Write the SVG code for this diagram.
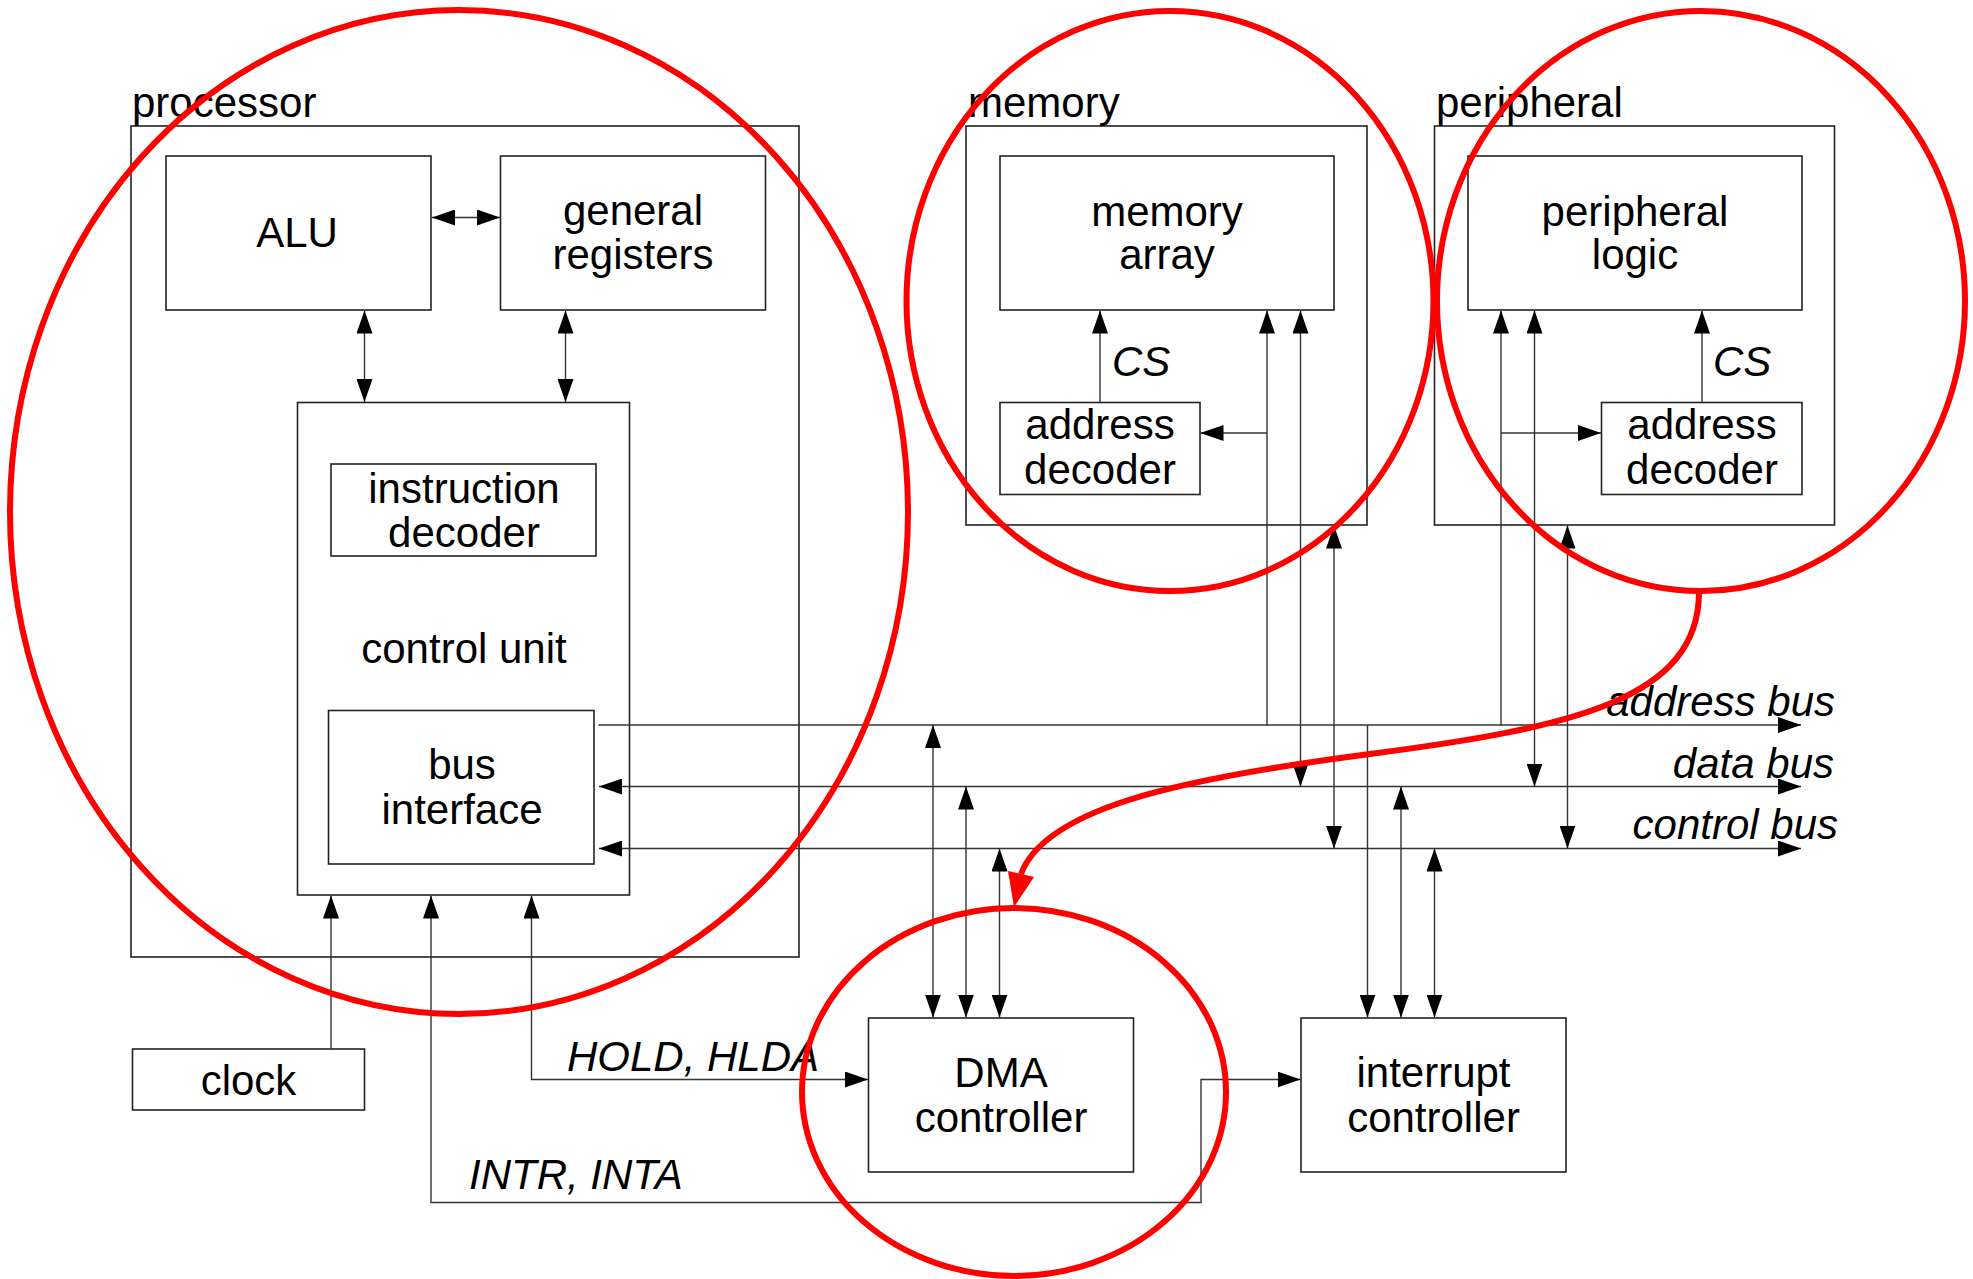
<svg xmlns="http://www.w3.org/2000/svg" width="1973" height="1279" viewBox="0 0 1973 1279">
<style>
.box{fill:none;stroke:#222;stroke-width:1.6}
.ln{fill:none;stroke:#333;stroke-width:1.4}
.t{font-family:"Liberation Sans",Arial,sans-serif;font-size:42px;fill:#000}
.c{text-anchor:middle}
.i{font-style:italic}
.e{text-anchor:end}
.red{fill:none;stroke:#ff0000;stroke-width:6}
.a1{marker-end:url(#ah)}
.a2{marker-start:url(#ah);marker-end:url(#ah)}
.a0{marker-start:url(#ah)}
</style>
<defs>
<marker id="ah" viewBox="0 0 23 16" refX="23" refY="8" markerWidth="23" markerHeight="16" markerUnits="userSpaceOnUse" orient="auto-start-reverse">
<path d="M0,0 L23,8 L0,16 Z" fill="#000"/>
</marker>
</defs>
<rect width="1973" height="1279" fill="#fff"/>

<g id="processor">
<rect class="box" x="131" y="126" width="668" height="831"/>
<text class="t" x="132" y="117">processor</text>
</g>
<g id="alu">
<rect class="box" x="166" y="156" width="265" height="154"/>
<text class="t c" x="297" y="247">ALU</text>
</g>
<g id="general-registers">
<rect class="box" x="500.5" y="156" width="265" height="154"/>
<text class="t c" x="633" y="225">general</text>
<text class="t c" x="633" y="269">registers</text>
</g>
<g id="control-unit">
<rect class="box" x="297.5" y="402.5" width="332" height="492.5"/>
<text class="t c" x="464" y="663">control unit</text>
</g>
<g id="instruction-decoder">
<rect class="box" x="331" y="464" width="265" height="92"/>
<text class="t c" x="464" y="503">instruction</text>
<text class="t c" x="464" y="547">decoder</text>
</g>
<g id="bus-interface">
<rect class="box" x="328.5" y="710.5" width="265.5" height="153.5"/>
<text class="t c" x="462" y="779">bus</text>
<text class="t c" x="462" y="824">interface</text>
</g>
<g id="memory">
<rect class="box" x="966" y="126" width="401" height="399"/>
<text class="t" x="968" y="117">memory</text>
</g>
<g id="memory-array">
<rect class="box" x="1000" y="156" width="334" height="154"/>
<text class="t c" x="1167" y="226">memory</text>
<text class="t c" x="1167" y="269">array</text>
</g>
<g id="mem-address-decoder">
<rect class="box" x="1000" y="402.5" width="200" height="92"/>
<text class="t c" x="1100" y="439">address</text>
<text class="t c" x="1100" y="484">decoder</text>
</g>
<g id="peripheral">
<rect class="box" x="1434.5" y="126" width="400" height="399"/>
<text class="t" x="1436" y="117">peripheral</text>
</g>
<g id="peripheral-logic">
<rect class="box" x="1468" y="156" width="334" height="154"/>
<text class="t c" x="1635" y="226">peripheral</text>
<text class="t c" x="1635" y="269">logic</text>
</g>
<g id="per-address-decoder">
<rect class="box" x="1601.5" y="402.5" width="200.5" height="92"/>
<text class="t c" x="1702" y="439">address</text>
<text class="t c" x="1702" y="484">decoder</text>
</g>
<g id="clock">
<rect class="box" x="132.5" y="1049" width="232" height="61"/>
<text class="t c" x="248.5" y="1095">clock</text>
</g>
<g id="dma-controller">
<rect class="box" x="868.5" y="1018" width="265" height="154"/>
<text class="t c" x="1001" y="1087">DMA</text>
<text class="t c" x="1001" y="1132">controller</text>
</g>
<g id="interrupt-controller">
<rect class="box" x="1301" y="1018" width="265" height="154"/>
<text class="t c" x="1433.5" y="1087">interrupt</text>
<text class="t c" x="1433.5" y="1132">controller</text>
</g>

<g id="connectors">
<line class="ln a2" x1="432" y1="217.5" x2="500" y2="217.5"/>
<line class="ln a2" x1="364.5" y1="310.5" x2="364.5" y2="402"/>
<line class="ln a2" x1="565.5" y1="310.5" x2="565.5" y2="402"/>
<line class="ln a1" x1="331" y1="1049" x2="331" y2="895.5"/>
<polyline class="ln a2" points="431,895.5 431,1202.5 1201,1202.5 1201,1079.5 1300.5,1079.5"/>
<polyline class="ln a2" points="531.5,895.5 531.5,1079.5 868,1079.5"/>
<line class="ln a1" x1="598.5" y1="725" x2="1801" y2="725"/>
<line class="ln a2" x1="599" y1="786.5" x2="1801" y2="786.5"/>
<line class="ln a2" x1="599" y1="848.5" x2="1801" y2="848.5"/>
<line class="ln a0" x1="1100" y1="310.5" x2="1100" y2="402.5"/>
<line class="ln a0" x1="1702" y1="310.5" x2="1702" y2="402.5"/>
<line class="ln a0" x1="1267" y1="310.5" x2="1267" y2="725"/>
<line class="ln a1" x1="1267" y1="433" x2="1200.5" y2="433"/>
<line class="ln a2" x1="1300.5" y1="310.5" x2="1300.5" y2="786.5"/>
<line class="ln a2" x1="1334" y1="525.5" x2="1334" y2="848.5"/>
<line class="ln a0" x1="1501" y1="310.5" x2="1501" y2="725"/>
<line class="ln a1" x1="1501" y1="433" x2="1601" y2="433"/>
<line class="ln a2" x1="1534.5" y1="310.5" x2="1534.5" y2="786.5"/>
<line class="ln a2" x1="1567.5" y1="525.5" x2="1567.5" y2="848.5"/>
<line class="ln a2" x1="933" y1="725" x2="933" y2="1017.5"/>
<line class="ln a2" x1="966" y1="786.5" x2="966" y2="1017.5"/>
<line class="ln a2" x1="999.5" y1="848.5" x2="999.5" y2="1017.5"/>
<line class="ln a1" x1="1367.5" y1="725" x2="1367.5" y2="1017.5"/>
<line class="ln a2" x1="1401" y1="786.5" x2="1401" y2="1017.5"/>
<line class="ln a2" x1="1434.5" y1="848.5" x2="1434.5" y2="1017.5"/>
</g>

<g id="labels">
<text class="t i" x="1112" y="376">CS</text>
<text class="t i" x="1713" y="376">CS</text>
<text class="t i" x="567" y="1071">HOLD, HLDA</text>
<text class="t i" x="469" y="1189">INTR, INTA</text>
<text class="t i e" x="1835" y="716">address bus</text>
<text class="t i e" x="1834" y="778">data bus</text>
<text class="t i e" x="1838" y="839">control bus</text>
</g>

<g id="highlights">
<ellipse class="red" cx="459" cy="512" rx="449" ry="502"/>
<ellipse class="red" cx="1170" cy="301" rx="263.5" ry="290"/>
<ellipse class="red" cx="1701" cy="301" rx="264" ry="290"/>
<ellipse class="red" cx="1014" cy="1092" rx="212" ry="184"/>
<path class="red" d="M1699,592 C1699,700 1570,728 1370,754 C1170,780 1045,810 1021,874"/>
<polygon points="1014,907 1008,871 1034,877" fill="#ff0000"/>
</g>
</svg>
